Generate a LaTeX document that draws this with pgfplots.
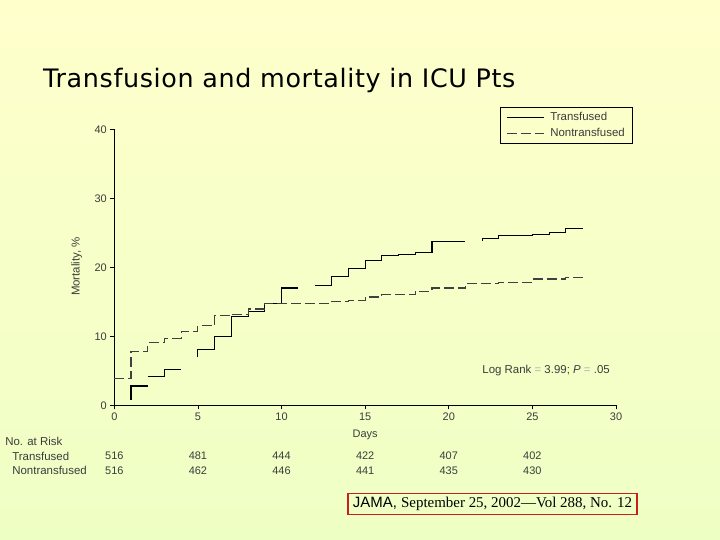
\documentclass[border=0pt]{standalone}
\usepackage{pgfplots}
\pgfplotsset{compat=1.18}
\usepackage{fontspec}
\setmainfont{Liberation Sans}
\newfontfamily\seriffont{Liberation Serif}
\newfontfamily\titlefont[LetterSpace=2.5]{DejaVu Sans}
\definecolor{bgtop}{RGB}{255,255,204}
\definecolor{bgmid}{RGB}{206,255,206}
\definecolor{bgbot}{RGB}{238,255,196}
\definecolor{txtgray}{RGB}{60,60,60}
\definecolor{jamared}{RGB}{200,30,30}
\begin{document}
\begin{tikzpicture}
\shade[top color=bgtop, middle color=bgmid, bottom color=bgbot] (0bp,0bp) rectangle (720bp,540bp);
\node[anchor=base west, inner sep=0pt, font=\titlefont\fontsize{25.5}{29}\selectfont] at (43bp,452bp) {Transfusion and mortality in ICU Pts};
\begin{axis}[
  at={(114.3bp,134.7bp)}, anchor=south west,
  scale only axis, width=501.7bp, height=276bp,
  xmin=0, xmax=30, ymin=0, ymax=40,
  axis x line*=bottom, axis y line*=left,
  axis line style={-, line width=0.8bp},
  xtick={0,5,...,30}, ytick={0,10,...,40},
  tick align=outside, major tick length=4bp,
  tick style={line width=0.8bp, black},
  /pgf/number format/assume math mode=true,
  ticklabel style={font=\fontsize{11}{13}\selectfont, text=txtgray},
  xlabel={Days}, ylabel={Mortality, \%},
  xlabel style={at={(axis description cs:0.5,-0.108)}, anchor=center, font=\fontsize{11}{13}\selectfont, text=txtgray},
  ylabel style={at={(axis description cs:-0.075,0.503)}, anchor=center, font=\fontsize{11.5}{13}\selectfont, text=txtgray},
  clip=false,
  legend style={at={(axis description cs:1.034,1.081)}, anchor=north east, draw=black, line width=0.6bp, fill=none,
     font=\fontsize{11.5}{13}\selectfont, text=txtgray, row sep=2.5bp, inner xsep=6bp, inner ysep=3bp},
  legend cell align=left,
  legend image code/.code={\draw[#1] (0bp,0bp) -- (37bp,0bp);},
]
% Transfused (solid), drawn in segments as in the figure
\addplot[black, line width=1.1bp] coordinates {(1,0.8)(1,2.8)(2,2.8)};
\addlegendentry{\hspace{4bp}Transfused}
\addplot[black, line width=1.1bp, forget plot] coordinates {(2,4.15)(3,4.15)(3,5.25)(4,5.25)};
\addplot[black, line width=1.1bp, forget plot] coordinates {(5,6.95)(5,8.1)(6,8.1)(6,10.0)(7,10.0)(7,12.9)(8,12.9)(8,13.65)(9,13.65)(9,14.8)(10,14.8)(10,17.0)(11,17.0)};
\addplot[black, line width=1.1bp, forget plot] coordinates {(12,17.4)(13,17.4)(13,18.7)(14,18.7)(14,19.85)(15,19.85)(15,21.05)(16,21.05)(16,21.7)(17,21.7)(17,21.9)(18,21.9)(18,22.2)(19,22.2)(19,23.8)(21,23.8)};
\addplot[black, line width=1.1bp, forget plot] coordinates {(22,23.85)(22,24.2)(23,24.2)(23,24.6)(25,24.6)(25,24.8)(26,24.8)(26,25.0)(27,25.0)(27,25.65)(28,25.65)};
% Nontransfused (dashed)
\addplot[black!75, line width=1.1bp, dash pattern=on 10bp off 4bp] coordinates {(0,3.9)(1,3.9)(1,7.8)(2,7.8)(2,9.05)(3,9.05)(3,9.7)(4,9.7)(4,10.7)(5,10.7)(5,11.5)(6,11.5)(6,13.0)(7,13.0)(7,13.2)(8,13.2)(8,13.95)(9,13.95)(9,14.75)(13,14.75)(13,15.1)(14,15.1)(14,15.2)(15,15.2)(15,15.7)(16,15.7)(16,16.0)(18,16.0)(18,16.5)(19,16.5)(19,17.0)(21,17.0)(21,17.7)(23,17.7)(23,17.85)(25,17.85)(25,18.3)(27,18.3)(27,18.55)(28,18.55)};
\addlegendentry{\hspace{4bp}Nontransfused}
% annotation
\node[anchor=west, font=\fontsize{11.5}{13}\selectfont, text=txtgray] at (axis cs:21.8,5.1) {Log Rank {\color{gray!60}=} 3.99; \textit{P} {\color{gray!60}=} .05};
% number at risk table
\node[anchor=west, inner sep=0pt, font=\fontsize{11.5}{13}\selectfont, text=txtgray] at (axis cs:-6.53,-5.2) {No. at Risk};
\node[anchor=west, inner sep=0pt, font=\fontsize{11.5}{13}\selectfont, text=txtgray] at (axis cs:-6.11,-7.35) {Transfused};
\node[anchor=west, inner sep=0pt, font=\fontsize{11.5}{13}\selectfont, text=txtgray] at (axis cs:-6.11,-9.5) {Nontransfused};
\foreach \d/\n in {0/516,5/481,10/444,15/422,20/407,25/402}{
  \edef\tmp{\noexpand\node[font=\noexpand\fontsize{11}{13}\noexpand\selectfont, text=txtgray] at (axis cs:\d,-7.35) {\n};}\tmp
}
\foreach \d/\n in {0/516,5/462,10/446,15/441,20/435,25/430}{
  \edef\tmp{\noexpand\node[font=\noexpand\fontsize{11}{13}\noexpand\selectfont, text=txtgray] at (axis cs:\d,-9.5) {\n};}\tmp
}
\end{axis}
\node[draw=jamared, line width=1.6bp, inner xsep=3bp, inner ysep=2bp, minimum width=289bp, minimum height=21bp, font=\fontsize{15}{17}\selectfont] at (492.5bp,36bp) {JAMA, {\seriffont September 25, 2002\textemdash Vol 288, No. 12}};
\end{tikzpicture}
\end{document}
